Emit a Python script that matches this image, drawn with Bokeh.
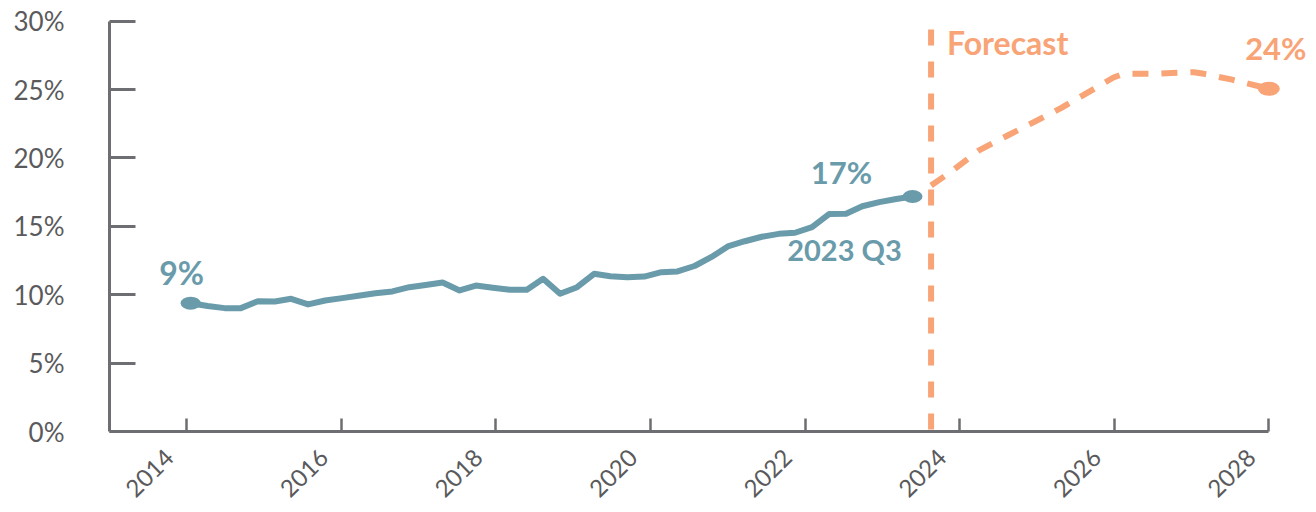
import math
from bokeh.plotting import figure
from bokeh.models import Range1d, FixedTicker, Label, LinearAxis
from bokeh.embed import file_html
from bokeh.resources import INLINE

# ---------------- data ----------------
years_actual = [2014.05, 2014.27, 2014.49, 2014.70, 2014.92, 2015.14, 2015.35, 2015.57, 2015.79,
                2016.01, 2016.22, 2016.44, 2016.66, 2016.88, 2017.09, 2017.31, 2017.53, 2017.74,
                2017.96, 2018.18, 2018.40, 2018.61, 2018.83, 2019.05, 2019.27, 2019.48, 2019.70,
                2019.92, 2020.14, 2020.35, 2020.57, 2020.79, 2021.00, 2021.22, 2021.44, 2021.66,
                2021.87, 2022.09, 2022.31, 2022.53, 2022.74, 2022.96, 2023.18, 2023.39]
share_actual = [9.38, 9.17, 9.02, 9.02, 9.52, 9.51, 9.70, 9.29, 9.58, 9.75, 9.92, 10.11, 10.24,
                10.55, 10.71, 10.89, 10.31, 10.67, 10.51, 10.36, 10.36, 11.16, 10.07, 10.55, 11.53,
                11.35, 11.28, 11.33, 11.65, 11.70, 12.10, 12.76, 13.53, 13.91, 14.24, 14.45, 14.53,
                14.94, 15.90, 15.92, 16.47, 16.77, 17.00, 17.18]

years_forecast = [2023.63, 2023.88, 2024.25, 2024.62, 2024.96, 2025.31, 2025.65, 2025.99,
                  2026.12, 2026.51, 2027.03, 2027.16, 2027.51, 2028.00]
share_forecast = [17.99, 18.96, 20.55, 21.64, 22.62, 23.64, 24.76, 25.88, 26.15, 26.15, 26.27,
                  26.15, 25.74, 25.06]

forecast_start = 2023.63
forecast_top = 29.4

x_ticks = [2014, 2016, 2018, 2020, 2022, 2024, 2026, 2028]
x_tick_labels = ["2014", "2016", "2018", "2020", "2022", "2024", "2026", "2028"]
y_ticks = [0, 5, 10, 15, 20, 25, 30]
y_tick_labels = ["0%", "5%", "10%", "15%", "20%", "25%", "30%"]

label_start = "9%"
label_end = "17%"
label_end_period = "2023 Q3"
label_forecast_end = "24%"
label_forecast = "Forecast"

# ---------------- style ----------------
TEAL = "#6a9bab"
ORANGE = "#f8a477"
AXIS = "#6d6e71"
TEXT = "#5a5a5c"
FONT = "Lato"
LABEL_SHIFT = -0.225  # year labels sit a little left of their tick marks

p = figure(width=1316, height=512,
           x_range=Range1d(2013, 2028.617), y_range=Range1d(0, 30.78),
           output_backend="svg", toolbar_location=None,
           min_border_left=109, min_border_right=0, min_border_top=10, min_border_bottom=81)
p.xgrid.visible = False
p.ygrid.visible = False
p.outline_line_color = None
p.background_fill_color = "white"
p.border_fill_color = "white"

# x axis: line + tick marks only
xa = p.xaxis[0]
xa.ticker = FixedTicker(ticks=x_ticks)
xa.major_label_overrides = {t: "" for t in x_ticks}
xa.major_label_text_font_size = "1px"
xa.major_label_standoff = 0
xa.bounds = (2013, 2028)
xa.axis_line_color = AXIS
xa.axis_line_width = 3
xa.major_tick_line_color = AXIS
xa.major_tick_line_width = 2.5
xa.major_tick_in = 13
xa.major_tick_out = 0
xa.minor_tick_line_color = None

# x axis labels (second axis, no line / ticks)
label_pos = [t + LABEL_SHIFT for t in x_ticks]
xl = LinearAxis(ticker=FixedTicker(ticks=label_pos),
                major_label_overrides={lp: l for lp, l in zip(label_pos, x_tick_labels)},
                axis_line_color=None, major_tick_line_color=None, minor_tick_line_color=None,
                major_tick_in=0, major_tick_out=0,
                major_label_orientation=0.78,
                major_label_text_font=FONT, major_label_text_font_size="24px",
                major_label_text_color=TEXT, major_label_standoff=22)
p.add_layout(xl, "below")

ya = p.yaxis[0]
ya.ticker = FixedTicker(ticks=y_ticks)
ya.major_label_overrides = {t: l for t, l in zip(y_ticks, y_tick_labels)}
ya.bounds = (0, 30)
ya.axis_line_color = AXIS
ya.axis_line_width = 3
ya.major_tick_line_color = AXIS
ya.major_tick_line_width = 3
ya.major_tick_in = 26
ya.major_tick_out = 0
ya.minor_tick_line_color = None
ya.major_label_text_font = FONT
ya.major_label_text_font_size = "26px"
ya.major_label_text_color = TEXT
ya.major_label_standoff = 45

# forecast divider
p.line([forecast_start, forecast_start], [forecast_top, 0], line_color=ORANGE,
       line_width=6, line_dash="16 16")

# actual series
p.line(years_actual, share_actual, line_color=TEAL, line_width=6,
       line_join="round", line_cap="round")
p.ellipse(x=[years_actual[0], years_actual[-1]], y=[share_actual[0], share_actual[-1]],
          width=20, height=13, width_units="screen", height_units="screen",
          fill_color=TEAL, line_color=None)

# forecast series
p.line(years_forecast, share_forecast, line_color=ORANGE, line_width=6,
       line_dash="16 13", line_join="round")
p.ellipse(x=[years_forecast[-1]], y=[share_forecast[-1]],
          width=22, height=14, width_units="screen", height_units="screen",
          fill_color=ORANGE, line_color=None)


def add_label(x, y, text, color, dx, dy, size, weight="bold", align="center"):
    p.add_layout(Label(x=x, y=y, text=text, x_offset=dx, y_offset=dy,
                       text_color=color, text_font=FONT, text_font_size=size,
                       text_font_style=weight, text_align=align,
                       text_baseline="alphabetic"))


add_label(years_actual[0], share_actual[0], label_start, TEAL, -9, 31, "32px")
add_label(years_actual[-1], share_actual[-1], label_end, TEAL, -71, 25, "31px")
add_label(years_actual[-1], share_actual[-1], label_end_period, TEAL, -68, -53, "29px")
add_label(years_forecast[-1], share_forecast[-1], label_forecast_end, ORANGE, 7, 41, "31px")
add_label(forecast_start, forecast_top, label_forecast, ORANGE, 16, -13, "32px", align="left")

open("out.html", "w").write(file_html(p, INLINE))
